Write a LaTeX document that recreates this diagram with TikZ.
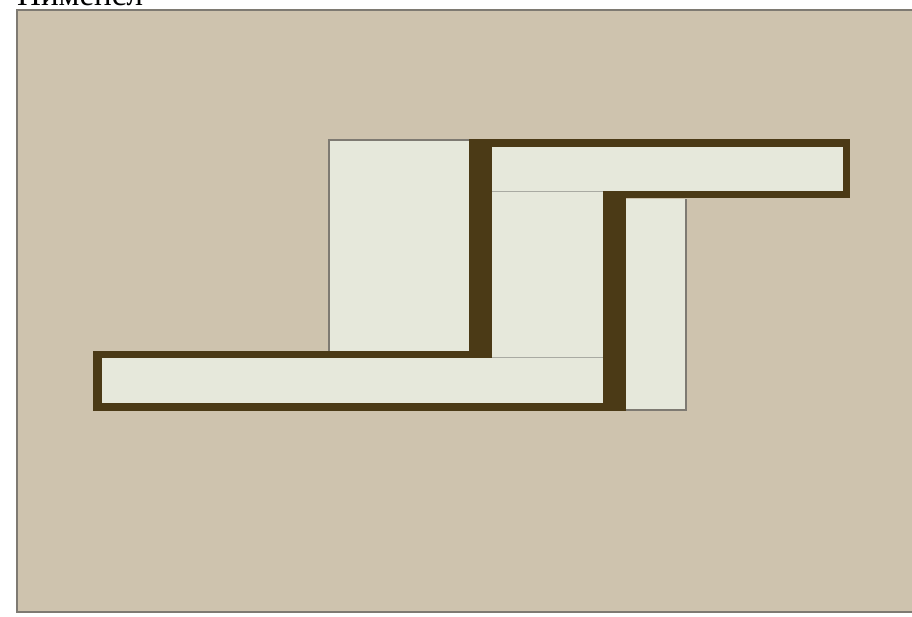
\documentclass[tikz,border=0pt]{standalone}
\usepackage{fontspec}
\setmainfont{Liberation Serif}
\definecolor{bgbeige}{HTML}{CEC3AE}
\definecolor{lightfill}{HTML}{E6E8DB}
\definecolor{darkbrown}{HTML}{4B3A16}
\definecolor{framegray}{HTML}{7E7A72}
\definecolor{seamgray}{HTML}{A9AAA2}
\tikzset{
  lightpart/.style={fill=lightfill, draw=none},
  darkpart/.style={fill=darkbrown, draw=none},
  seam/.style={draw=seamgray, line width=1.2pt},
}
\begin{document}
\begin{tikzpicture}[x=1pt,y=-1pt]
\useasboundingbox (0,0) rectangle (912,617);
\fill[white] (0,0) rectangle (912,617);
% frame
\fill[bgbeige] (17,10) rectangle (930,612);
\draw[framegray, line width=1.5pt] (930,10) -- (17,10) -- (17,612) -- (930,612);
% title (clipped at top, as in the reference)
\node[anchor=base west, inner sep=0pt, font=\fontsize{33}{35}\selectfont, text=black] (title) at (17,6) {Пименсл};
% upper left box
\fill[lightpart] (329,140) rectangle (469,352);
\draw[framegray, line width=1.5pt] (329,352) -- (329,140) -- (469,140);
% top bar outline
\fill[darkpart] (469,139) rectangle (850,198);
\fill[lightpart] (492,147) rectangle (843,191);
% bottom bar outline
\fill[darkpart] (93,351) rectangle (626,411);
\fill[lightpart] (102,358) rectangle (603,403);
% middle light region
\fill[lightpart] (492,191) rectangle (603,358);
\draw[seam] (492,191.5) -- (603,191.5);
\draw[seam] (492,357.5) -- (603,357.5);
% first dark vertical bar
\fill[darkpart] (469,139) rectangle (492,358);
% second dark vertical bar
\fill[darkpart] (603,191) rectangle (626,411);
% right light box
\fill[lightpart] (626,199) rectangle (686,410);
\draw[framegray, line width=1.2pt] (626,410) -- (686,410) -- (686,199);
\end{tikzpicture}
\end{document}
